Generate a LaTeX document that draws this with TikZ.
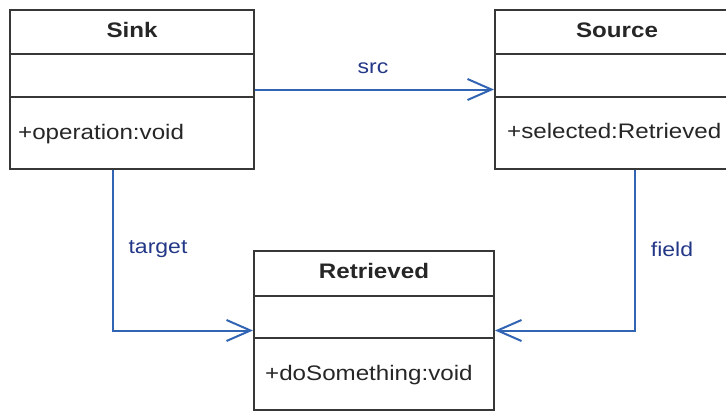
\documentclass[tikz,border=0pt]{standalone}
\usepackage{fontspec}
\setmainfont{Liberation Sans}
\usetikzlibrary{arrows.meta,calc}

\definecolor{boxline}{RGB}{55,55,55}
\definecolor{linkblue}{RGB}{50,100,180}
\definecolor{labelblue}{RGB}{35,55,135}

% slightly widened lettering
\newcommand\wtext[1]{\scalebox{1.15}[1]{#1}}

\tikzset{
  classbox/.style={draw=boxline, line width=2pt, rectangle, inner sep=0pt,
                   anchor=north west, minimum height=159pt},
  divider/.style={draw=boxline, line width=2pt},
  classname/.style={font=\fontsize{21}{25}\selectfont\bfseries, text=black!85, inner sep=0pt},
  member/.style={font=\fontsize{21}{25}\selectfont, text=black!85, inner sep=0pt, anchor=west},
  link/.style={draw=linkblue, line width=2pt,
               -{Straight Barb[length=24pt,width=21pt,line width=2pt]}},
  linklabel/.style={font=\fontsize{20}{24}\selectfont, text=labelblue, inner sep=0pt}
}

\begin{document}
\begin{tikzpicture}[x=1pt,y=-1pt]
  \useasboundingbox (0,0) rectangle (726,410);

  % class boxes
  \node[classbox, minimum width=244pt] (sink) at (9,9) {};
  \node[classbox, minimum width=244pt] (source) at (494,9) {};
  \node[classbox, minimum width=240pt] (retrieved) at (253,250) {};

  % compartment dividers
  \foreach \n/\a/\b in {sink/45/88, source/45/88, retrieved/46/88} {
    \draw[divider] ($(\n.north west)+(0,\a)$) -- ($(\n.north east)+(0,\a)$);
    \draw[divider] ($(\n.north west)+(0,\b)$) -- ($(\n.north east)+(0,\b)$);
  }

  % class names
  \node[classname] (sinkname) at ($(sink.north)+(0,21)$) {\wtext{Sink}};
  \node[classname] (sourcename) at ($(source.north)+(0,21)$) {\wtext{Source}};
  \node[classname] (retrievedname) at ($(retrieved.north)+(0,21)$) {\wtext{Retrieved}};

  % operations / attributes
  \node[member] (sinkop) at ($(sink.north west)+(9,125)$) {\wtext{+operation:void}};
  \node[member] (sourceop) at ($(source.north west)+(13,122)$) {\wtext{+selected:Retrieved}};
  \node[member] (retrievedop) at ($(retrieved.north west)+(12,125)$) {\wtext{+doSomething:void}};

  % associations
  \draw[link] (sink.east) -- (source.west);
  \draw[link] ([xshift=-19pt]sink.south) |- (retrieved.west);
  \draw[link] ([xshift=18pt]source.south) |- (retrieved.east);

  % association labels
  \node[linklabel] (srclabel) at (373,68) {\wtext{src}};
  \node[linklabel] (targetlabel) at (158,249) {\wtext{target}};
  \node[linklabel] (fieldlabel) at (672,249) {\wtext{field}};
\end{tikzpicture}
\end{document}
